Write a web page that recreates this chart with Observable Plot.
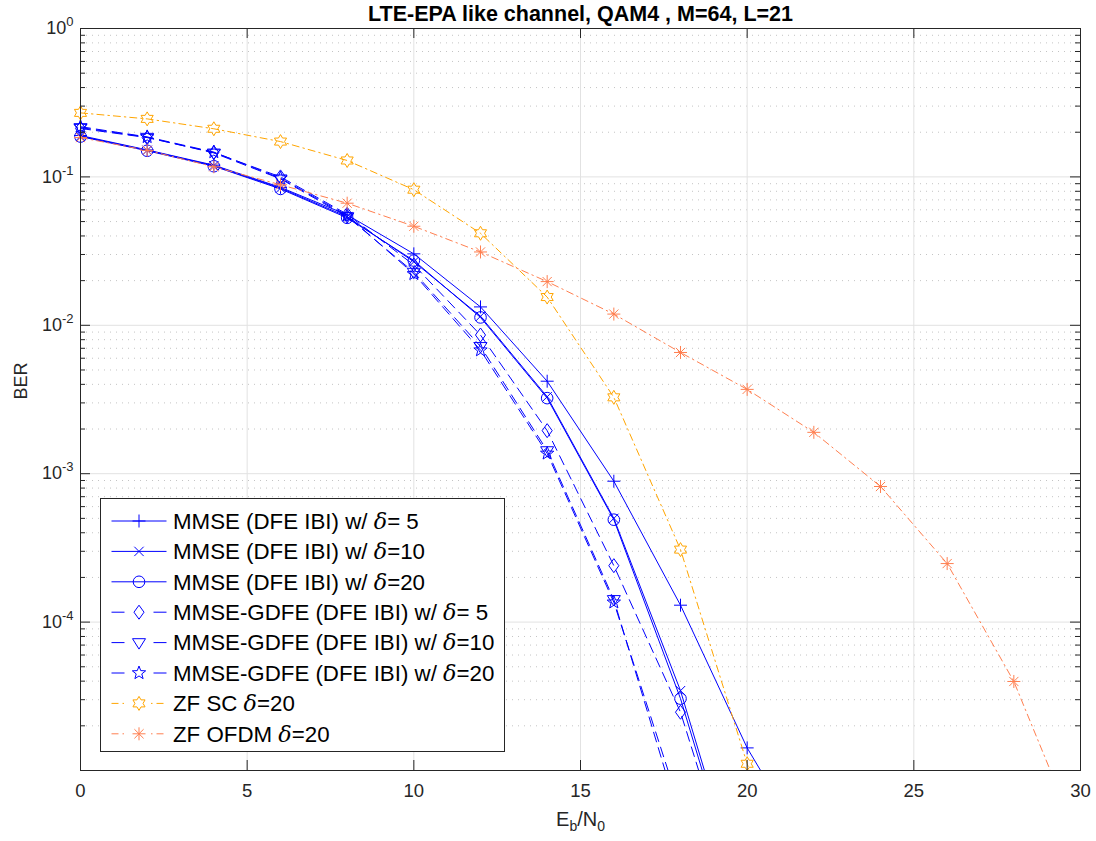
<!DOCTYPE html>
<html><head><meta charset="utf-8">
<script src="https://cdn.jsdelivr.net/npm/d3@7"></script>
<script src="https://cdn.jsdelivr.net/npm/@observablehq/plot@0.6"></script>
<style>
html,body{margin:0;padding:0;background:#fff;}
#wrap{position:relative;width:1096px;height:841px;font-family:"Liberation Sans",Arial,Helvetica,sans-serif;}
#legend{position:absolute;left:100px;top:498px;}
</style></head><body><div id="wrap"></div>
<script>
// ---------------- data ----------------
const titleText = "LTE-EPA like channel, QAM4 , M=64, L=21";
const xLabel = "E_b/N_0";
const yLabel = "BER";
const ebn0 = [0,2,4,6,8,10,12,14,16,18,20,22,24,26,28,30];
const xTicks = [0,5,10,15,20,25,30];
const yTicks = [1e-5,1e-4,1e-3,1e-2,1e-1,1];
const yTickLabels = [1e-4,1e-3,1e-2,1e-1,1];

const mmse5   = [0.190,0.152,0.120,0.085,0.0555,0.0303,0.0133,0.0042,8.9e-4,1.3e-4,1.42e-5,2.5e-6];
const mmse10  = [0.188,0.151,0.119,0.084,0.054,0.0268,0.0115,0.0033,5.0e-4,3.45e-5,1.1e-6];
const mmse20  = [0.187,0.150,0.118,0.083,0.053,0.0273,0.0113,0.00323,4.9e-4,3.05e-5,1.0e-6];
const gdfe5   = [0.212,0.184,0.146,0.100,0.056,0.0255,0.0086,0.00195,2.4e-4,2.47e-5,9e-7];
const gdfe10  = [0.215,0.185,0.145,0.097,0.054,0.0228,0.0072,0.00143,1.42e-4,4.5e-6];
const gdfe20  = [0.218,0.186,0.147,0.098,0.055,0.0222,0.0068,0.00137,1.36e-4,5.5e-6];
const zfsc    = [0.270,0.246,0.211,0.173,0.129,0.082,0.0417,0.0155,0.00327,3.08e-4,1.11e-5,6e-7];
const zfofdm  = [0.184,0.151,0.117,0.0885,0.0665,0.0465,0.0312,0.0197,0.0119,0.00656,0.0037,0.0019,8.2e-4,2.48e-4,3.98e-5,3.2e-6];

const seriesNames = [
  "MMSE (DFE IBI) w/ δ= 5",
  "MMSE (DFE IBI) w/ δ=10",
  "MMSE (DFE IBI) w/ δ=20",
  "MMSE-GDFE (DFE IBI) w/ δ= 5",
  "MMSE-GDFE (DFE IBI) w/ δ=10",
  "MMSE-GDFE (DFE IBI) w/ δ=20",
  "ZF SC δ=20",
  "ZF OFDM δ=20"
];
const seriesValues = [mmse5, mmse10, mmse20, gdfe5, gdfe10, gdfe20, zfsc, zfofdm];

// ---------------- styles ----------------
const BLUE = "#0000ff", ORANGE = "#ffa500", CORAL = "#ff7f50";
function sym(fn){ return {draw(c, size){ fn(c, Math.sqrt(size/Math.PI)); }}; }
function starPath(c, r, n, inner){
  for (let k=0;k<2*n;k++){
    const rr = k%2===0 ? r : r*inner;
    const a = -Math.PI/2 + k*Math.PI/n;
    const px = rr*Math.cos(a), py = rr*Math.sin(a);
    if (k===0) c.moveTo(px,py); else c.lineTo(px,py);
  }
  c.closePath();
}
const symPlus = sym((c,r)=>{c.moveTo(-r,0);c.lineTo(r,0);c.moveTo(0,-r);c.lineTo(0,r);});
const symTimes = sym((c,r)=>{const a=r*0.72;c.moveTo(-a,-a);c.lineTo(a,a);c.moveTo(-a,a);c.lineTo(a,-a);});
const symCircle = sym((c,r)=>{c.moveTo(r,0);c.arc(0,0,r,0,2*Math.PI);c.closePath();});
const symDiamond = sym((c,r)=>{c.moveTo(0,-r);c.lineTo(0.72*r,0);c.lineTo(0,r);c.lineTo(-0.72*r,0);c.closePath();});
const symTriDown = sym((c,r)=>{c.moveTo(-r,-0.6*r);c.lineTo(r,-0.6*r);c.lineTo(0,r);c.closePath();});
const symPenta = sym((c,r)=>starPath(c,r,5,0.42));
const symHexa = sym((c,r)=>starPath(c,r,6,0.58));
const symAster = sym((c,r)=>{for(let k=0;k<4;k++){const a=k*Math.PI/4;c.moveTo(-r*Math.cos(a),-r*Math.sin(a));c.lineTo(r*Math.cos(a),r*Math.sin(a));}});

const DASH = "10,6", DASHDOT = "7,4,1.5,4";
const styles = [
  {stroke:BLUE, dash:null, symbol:symPlus, r:6.5},
  {stroke:BLUE, dash:null, symbol:symTimes, r:6.5},
  {stroke:BLUE, dash:null, symbol:symCircle, r:5.8},
  {stroke:BLUE, dash:DASH, symbol:symDiamond, r:7},
  {stroke:BLUE, dash:DASH, symbol:symTriDown, r:6.5},
  {stroke:BLUE, dash:DASH, symbol:symPenta, r:7},
  {stroke:ORANGE, dash:DASHDOT, symbol:symHexa, r:7},
  {stroke:CORAL, dash:DASHDOT, symbol:symAster, r:6.5}
];

// ---------------- layout ----------------
const W = 1096, H = 841, ML = 80, MR = 16, MT = 28, MB = 71;
const FW = W-ML-MR, FH = H-MT-MB;
const AX = "#262626";
const yMinor = [];
for (const t of yTicks.slice(0,-1)) for (let m=2;m<=9;m++) yMinor.push(t*m);

const marks = [
  Plot.ruleY(yMinor, {stroke:"#c4c4c4", strokeDasharray:"1,5"}),
  Plot.ruleY(yTicks, {stroke:"#e2e2e2"}),
  Plot.ruleX(xTicks, {stroke:"#e2e2e2"}),
];
seriesValues.forEach((vals, s) => {
  const data = vals.map((v,i)=>({x: ebn0[i], y: v}));
  const st = styles[s];
  marks.push(Plot.line(data, {x:"x", y:"y", stroke:st.stroke, strokeWidth:1, strokeDasharray: st.dash, clip:true}));
  marks.push(Plot.dot(data, {x:"x", y:"y", r:st.r, symbol:st.symbol, stroke:st.stroke, fill:"none", strokeWidth:1, filter: d => d.y >= 1e-5}));
});
marks.push(
  Plot.frame({stroke:AX}),
  Plot.ruleX(xTicks, {stroke:AX, insetTop:FH-10}),
  Plot.ruleX(xTicks, {stroke:AX, insetBottom:FH-10}),
  Plot.ruleY(yTicks, {stroke:AX, insetRight:FW-10}),
  Plot.ruleY(yTicks, {stroke:AX, insetLeft:FW-10}),
  Plot.ruleY(yMinor, {stroke:AX, insetRight:FW-5}),
  Plot.ruleY(yMinor, {stroke:AX, insetLeft:FW-5}),
  Plot.axisX({ticks:xTicks, tickSize:0, tickPadding:13, fontSize:18.5, label:null, fill:"#262626"}),
  Plot.axisY({ticks:yTickLabels, tickSize:0, tickPadding:7, fontSize:18, label:null, fill:"#262626", tickFormat: d => "10^" + Math.round(Math.log10(d))}),
  Plot.text([titleText], {text: d=>d, frameAnchor:"top", dy:-8, lineAnchor:"bottom", fontSize:21.5, fontWeight:"bold", fill:"#000"}),
  Plot.text([xLabel], {text: d=>d, frameAnchor:"bottom", dy:41, lineAnchor:"top", fontSize:20, fill:"#262626"}),
  Plot.text([yLabel], {text: d=>d, frameAnchor:"left", dx:-59, rotate:-90, fontSize:18, fill:"#262626"})
);

const chart = Plot.plot({
  width: W, height: H,
  marginLeft: ML, marginRight: MR, marginTop: MT, marginBottom: MB,
  style: {fontFamily: '"Liberation Sans", Arial, Helvetica, sans-serif', background:"#fff", overflow:"visible"},
  x: {domain:[0,30]},
  y: {type:"log", domain:[1e-5,1]},
  marks
});
document.getElementById("wrap").appendChild(chart);

// post-process: superscripts / subscripts
d3.select(chart).selectAll("text").each(function(){
  const t = d3.select(this);
  const s = this.textContent;
  if (/^10\^-?\d+$/.test(s)) {
    const e = s.split("^")[1];
    t.text("10");
    t.append("tspan").attr("dy","-8").attr("font-size","13").text(e);
  } else if (s === xLabel) {
    t.text("E");
    t.append("tspan").attr("dy","5").attr("font-size","14").text("b");
    t.append("tspan").attr("dy","-5").text("/N");
    t.append("tspan").attr("dy","5").attr("font-size","14").text("0");
  }
});

// ---------------- legend ----------------
const LW = 404, LH = 253, FS = 22.3;
const lg = d3.create("svg").attr("id","legend").attr("width",LW+1).attr("height",LH+1)
  .style("font-family",'"Liberation Sans", Arial, Helvetica, sans-serif');
lg.append("rect").attr("x",0.5).attr("y",0.5).attr("width",LW).attr("height",LH).attr("fill","#fff").attr("stroke",AX);
const legDash = [null,null,null,"13,29","13,29","13,29","7,4,1.5,27,1.5,4,7","7,4,1.5,27,1.5,4,7"];
seriesNames.forEach((name,i)=>{
  const cy = 23 + 30.4*i, st = styles[i];
  lg.append("line").attr("x1",11.5).attr("x2",66.5).attr("y1",cy).attr("y2",cy)
    .attr("stroke",st.stroke).attr("stroke-width",1).attr("stroke-dasharray",legDash[i]);
  const p = d3.path(); st.symbol.draw(p, Math.PI*st.r*st.r);
  lg.append("path").attr("d",p.toString()).attr("transform",`translate(39,${cy})`)
    .attr("fill","none").attr("stroke",st.stroke).attr("stroke-width",1);
  const parts = name.split("δ");
  const tx = lg.append("text").attr("x",73).attr("y",cy+7.8).attr("font-size",FS).attr("fill","#000");
  tx.append("tspan").text(parts[0]);
  tx.append("tspan").attr("font-style","italic").attr("font-family",'"DejaVu Serif", serif').text("δ");
  tx.append("tspan").text(parts[1]);
});
document.getElementById("wrap").appendChild(lg.node());
</script></body></html>
